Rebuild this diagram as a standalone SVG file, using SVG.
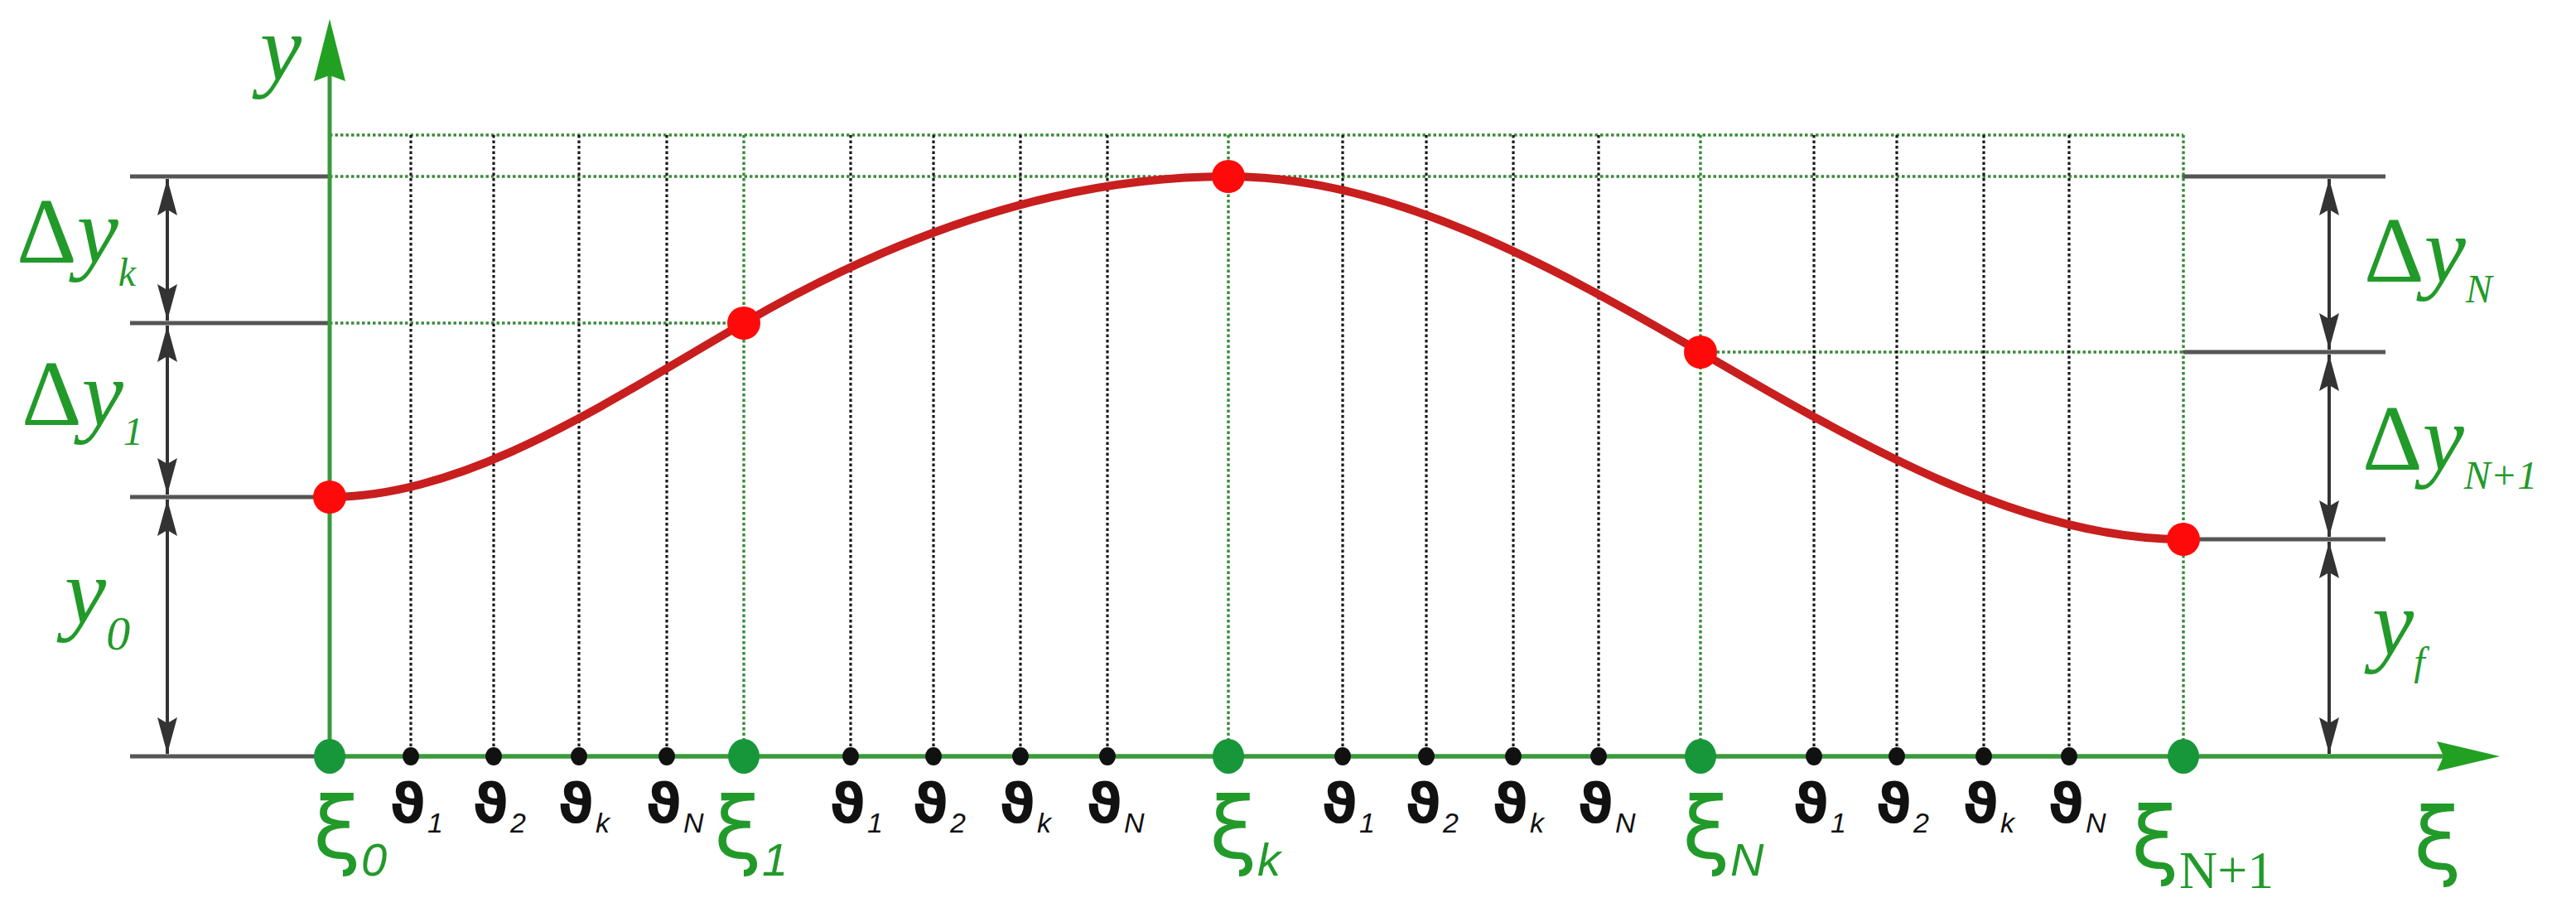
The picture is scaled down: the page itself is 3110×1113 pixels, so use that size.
<svg xmlns="http://www.w3.org/2000/svg" width="3110" height="1113" viewBox="0 0 3110 1113">
<style>
.gdot{stroke:#3a8a3a;stroke-width:3.4;stroke-dasharray:3.5 3;fill:none}
.kdot{stroke:#1a1a1a;stroke-width:3.2;stroke-dasharray:3.5 3;fill:none}
.ref{stroke:#555;stroke-width:5;fill:none}
.dim{stroke:#333;stroke-width:4;fill:none;marker-start:url(#ah);marker-end:url(#ah)}
.lab{font-family:"Liberation Serif","Times New Roman",serif;fill:#229a2a;font-size:113px}
.it{font-style:italic}
.sub{font-style:italic;font-size:48px}
.xi{font-family:"DejaVu Sans",sans-serif;fill:#229a2a;font-size:104px}
.xsub{font-family:"Liberation Sans",Arial,sans-serif;font-style:italic;font-size:56px;fill:#229a2a}
.th{font-family:"DejaVu Sans",sans-serif;font-weight:bold;fill:#111;font-size:66px;text-anchor:middle}
.ths{font-family:"Liberation Sans",Arial,sans-serif;font-style:italic;fill:#111;font-size:34px}
</style>
<defs>
<marker id="ah" markerUnits="userSpaceOnUse" markerWidth="46" markerHeight="28" viewBox="0 -14 46 28" refX="44" refY="0" orient="auto-start-reverse">
<path d="M0,-12 L44,0 L0,12 L7,0 z" fill="#333"/>
</marker>
</defs>
<rect width="3110" height="1113" fill="#fff"/>

<g id="grid">
<line class="gdot" x1="398" y1="163" x2="2636" y2="163"/>
<line class="gdot" x1="398" y1="213" x2="2636" y2="213"/>
<line class="gdot" x1="398" y1="390" x2="898" y2="390"/>
<line class="gdot" x1="2053" y1="425" x2="2636" y2="425"/>
<line class="gdot" x1="898" y1="163" x2="898" y2="913"/>
<line class="gdot" x1="1483" y1="163" x2="1483" y2="913"/>
<line class="gdot" x1="2053" y1="163" x2="2053" y2="913"/>
<line class="gdot" x1="2636" y1="163" x2="2636" y2="913"/>
<line class="kdot" x1="496" y1="163" x2="496" y2="913"/>
<line class="kdot" x1="596" y1="163" x2="596" y2="913"/>
<line class="kdot" x1="699" y1="163" x2="699" y2="913"/>
<line class="kdot" x1="805" y1="163" x2="805" y2="913"/>
<line class="kdot" x1="1027" y1="163" x2="1027" y2="913"/>
<line class="kdot" x1="1127" y1="163" x2="1127" y2="913"/>
<line class="kdot" x1="1232" y1="163" x2="1232" y2="913"/>
<line class="kdot" x1="1337" y1="163" x2="1337" y2="913"/>
<line class="kdot" x1="1621" y1="163" x2="1621" y2="913"/>
<line class="kdot" x1="1722" y1="163" x2="1722" y2="913"/>
<line class="kdot" x1="1827" y1="163" x2="1827" y2="913"/>
<line class="kdot" x1="1930" y1="163" x2="1930" y2="913"/>
<line class="kdot" x1="2190" y1="163" x2="2190" y2="913"/>
<line class="kdot" x1="2290" y1="163" x2="2290" y2="913"/>
<line class="kdot" x1="2395" y1="163" x2="2395" y2="913"/>
<line class="kdot" x1="2498" y1="163" x2="2498" y2="913"/>
</g>

<g id="reference-lines">
<line class="ref" x1="157" y1="213" x2="398" y2="213"/>
<line class="ref" x1="157" y1="390" x2="398" y2="390"/>
<line class="ref" x1="157" y1="600" x2="398" y2="600"/>
<line class="ref" x1="157" y1="913" x2="398" y2="913"/>
<line class="ref" x1="2636" y1="213" x2="2880" y2="213"/>
<line class="ref" x1="2636" y1="425" x2="2880" y2="425"/>
<line class="ref" x1="2636" y1="651" x2="2880" y2="651"/>
</g>

<g id="dimensions">
<line class="dim" x1="202" y1="216" x2="202" y2="387"/>
<line class="dim" x1="202" y1="393" x2="202" y2="597"/>
<line class="dim" x1="202" y1="603" x2="202" y2="910"/>
<line class="dim" x1="2812" y1="216" x2="2812" y2="422"/>
<line class="dim" x1="2812" y1="428" x2="2812" y2="648"/>
<line class="dim" x1="2812" y1="654" x2="2812" y2="910"/>
</g>

<g id="axes">
<line x1="398" y1="913" x2="2950" y2="913" stroke="#3a9a3a" stroke-width="5.5"/>
<polygon points="3018,913 2942,895 2950,913 2942,931" fill="#22a022"/>
<line x1="398" y1="913" x2="398" y2="90" stroke="#3a9a3a" stroke-width="5"/>
<polygon points="398,23 417,98 398,91 379,98" fill="#22a022"/>
</g>

<g id="curve">
<path d="M398,600 C564,600 732,486 898,390 C1093,277 1288,213 1483,213 C1673,213 1863,314 2053,425 C2247,538 2442,651 2636,651" fill="none" stroke="#c81e1e" stroke-width="10"/>
</g>

<g id="axis-points">
<ellipse cx="398" cy="913" rx="19" ry="21" fill="#17973a"/>
<ellipse cx="898" cy="913" rx="19" ry="21" fill="#17973a"/>
<ellipse cx="1483" cy="913" rx="19" ry="21" fill="#17973a"/>
<ellipse cx="2053" cy="913" rx="19" ry="21" fill="#17973a"/>
<ellipse cx="2636" cy="913" rx="19" ry="21" fill="#17973a"/>
<g fill="#111">
<ellipse cx="496" cy="913" rx="10" ry="11"/>
<ellipse cx="596" cy="913" rx="10" ry="11"/>
<ellipse cx="699" cy="913" rx="10" ry="11"/>
<ellipse cx="805" cy="913" rx="10" ry="11"/>
<ellipse cx="1027" cy="913" rx="10" ry="11"/>
<ellipse cx="1127" cy="913" rx="10" ry="11"/>
<ellipse cx="1232" cy="913" rx="10" ry="11"/>
<ellipse cx="1337" cy="913" rx="10" ry="11"/>
<ellipse cx="1621" cy="913" rx="10" ry="11"/>
<ellipse cx="1722" cy="913" rx="10" ry="11"/>
<ellipse cx="1827" cy="913" rx="10" ry="11"/>
<ellipse cx="1930" cy="913" rx="10" ry="11"/>
<ellipse cx="2190" cy="913" rx="10" ry="11"/>
<ellipse cx="2290" cy="913" rx="10" ry="11"/>
<ellipse cx="2395" cy="913" rx="10" ry="11"/>
<ellipse cx="2498" cy="913" rx="10" ry="11"/>
</g>
</g>

<g id="curve-points" fill="#ff0a0a">
<circle cx="398" cy="600" r="20"/>
<circle cx="898" cy="390" r="20"/>
<circle cx="1483" cy="213" r="20"/>
<circle cx="2053" cy="425" r="20"/>
<circle cx="2636" cy="651" r="20"/>
</g>

<g id="y-labels">
<text class="lab it" x="314" y="96" font-size="96">y</text>
<text class="lab" x="20" y="317">Δ<tspan class="it">y</tspan><tspan class="sub" dy="28">k</tspan></text>
<text class="lab" x="26" y="513">Δ<tspan class="it">y</tspan><tspan class="sub" dy="24">1</tspan></text>
<text class="lab" x="78" y="752"><tspan class="it">y</tspan><tspan class="it" font-size="58" dy="32">0</tspan></text>
<text class="lab" x="2854" y="340">Δ<tspan class="it">y</tspan><tspan class="sub" dy="25">N</tspan></text>
<text class="lab" x="2852" y="567">Δ<tspan class="it">y</tspan><tspan class="sub" dy="23">N+1</tspan></text>
<text class="lab" x="2864" y="790"><tspan class="it">y</tspan><tspan class="sub" dy="25">f</tspan></text>
</g>

<g id="xi-labels">
<text class="xi" x="378" y="1036">ξ<tspan class="xsub" dy="21">0</tspan></text>
<text class="xi" x="862" y="1036">ξ<tspan class="xsub" dy="21">1</tspan></text>
<text class="xi" x="1460" y="1036">ξ<tspan class="xsub" dy="21">k</tspan></text>
<text class="xi" x="2031" y="1036">ξ<tspan class="xsub" dy="21">N</tspan></text>
<text class="xi" x="2573" y="1048">ξ<tspan font-family="Liberation Serif, serif" font-size="64" dy="24">N+1</tspan></text>
<text class="xi" x="2914" y="1049">ξ</text>
</g>

<g id="theta-labels">
<text class="th" x="492" y="993">ϑ</text><text class="ths" x="516" y="1005">1</text>
<text class="th" x="592" y="993">ϑ</text><text class="ths" x="616" y="1005">2</text>
<text class="th" x="695" y="993">ϑ</text><text class="ths" x="719" y="1005">k</text>
<text class="th" x="801" y="993">ϑ</text><text class="ths" x="825" y="1005">N</text>
<text class="th" x="1023" y="993">ϑ</text><text class="ths" x="1047" y="1005">1</text>
<text class="th" x="1123" y="993">ϑ</text><text class="ths" x="1147" y="1005">2</text>
<text class="th" x="1228" y="993">ϑ</text><text class="ths" x="1252" y="1005">k</text>
<text class="th" x="1333" y="993">ϑ</text><text class="ths" x="1357" y="1005">N</text>
<text class="th" x="1617" y="993">ϑ</text><text class="ths" x="1641" y="1005">1</text>
<text class="th" x="1718" y="993">ϑ</text><text class="ths" x="1742" y="1005">2</text>
<text class="th" x="1823" y="993">ϑ</text><text class="ths" x="1847" y="1005">k</text>
<text class="th" x="1926" y="993">ϑ</text><text class="ths" x="1950" y="1005">N</text>
<text class="th" x="2186" y="993">ϑ</text><text class="ths" x="2210" y="1005">1</text>
<text class="th" x="2286" y="993">ϑ</text><text class="ths" x="2310" y="1005">2</text>
<text class="th" x="2391" y="993">ϑ</text><text class="ths" x="2415" y="1005">k</text>
<text class="th" x="2494" y="993">ϑ</text><text class="ths" x="2518" y="1005">N</text>
</g>
</svg>
